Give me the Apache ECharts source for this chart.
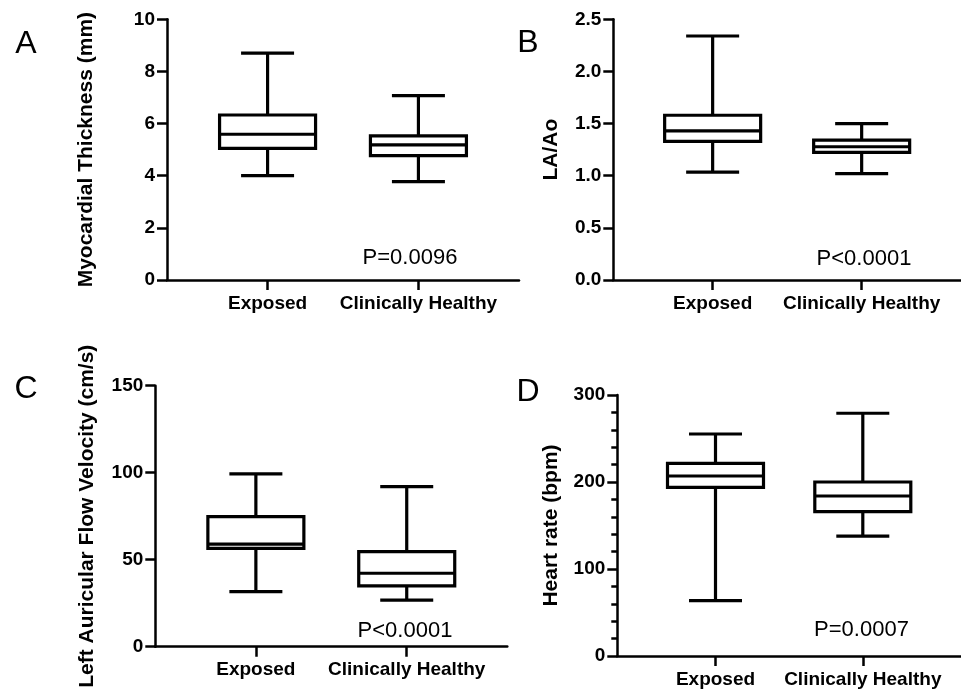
<!DOCTYPE html>
<html>
<head>
<meta charset="utf-8">
<script src="https://cdn.jsdelivr.net/npm/echarts@6/dist/echarts.min.js"></script>
<style>
html,body{margin:0;padding:0;background:#fff;}
#chart{width:961px;height:691px;}
</style>
</head>
<body>
<div id="chart"></div>
<script>
// ---- data ----
const categories = ['Exposed', 'Clinically Healthy'];
// [min, Q1, median, Q3, max]
const thicknessExposed = [4.0, 5.05, 5.59, 6.33, 8.7];
const thicknessHealthy = [3.77, 4.77, 5.18, 5.53, 7.07];
const laaoExposed = [1.035, 1.33, 1.43, 1.58, 2.34];
const laaoHealthy = [1.02, 1.224, 1.278, 1.342, 1.50];
const flowExposed = [31.6, 56.5, 59.0, 74.7, 99.3];
const flowHealthy = [26.8, 34.9, 42.2, 54.6, 92.0];
const hrExposed = [63.6, 193.9, 206.9, 221.5, 255.2];
const hrHealthy = [137.9, 165.9, 183.9, 200.0, 279.0];

const yTitles = ['Myocardial Thickness (mm)', 'LA/Ao', 'Left Auricular Flow Velocity (cm/s)', 'Heart rate (bpm)'];
const pTexts = ['P=0.0096', 'P<0.0001', 'P<0.0001', 'P=0.0007'];
const panelLetters = ['A', 'B', 'C', 'D'];
const yMin = [0, 0, 0, 0];
const yMax = [10, 2.5, 150, 300];
const yStep = [2, 0.5, 50, 100];

// ---- layout ----
const FONT = '"Liberation Sans", Arial, Helvetica, sans-serif';
const catPos = [2, 5];
const panels = [
  {left: 167, top: 19.3, height: 260.7, gap: 70, p: [410, 257.5], l: [26, 44], minor: false, dec: 0, series: [thicknessExposed, thicknessHealthy]},
  {left: 613.3, top: 19.3, height: 260.7, gap: 52, p: [864, 259], l: [528, 43], minor: false, dec: 1, series: [laaoExposed, laaoHealthy]},
  {left: 155.3, top: 385.7, height: 261, gap: 58, p: [405, 631], l: [26, 389.5], minor: false, dec: 0, series: [flowExposed, flowHealthy]},
  {left: 617.3, top: 395, height: 261, gap: 56, p: [861.5, 629.5], l: [528, 392], minor: true, dec: 0, series: [hrExposed, hrHealthy]}
];

function renderItem(params, api) {
  const x = api.value(0);
  const low = api.coord([x, api.value(1)]);
  const q1 = api.coord([x, api.value(2)]);
  const med = api.coord([x, api.value(3)]);
  const q3 = api.coord([x, api.value(4)]);
  const high = api.coord([x, api.value(5)]);
  const bw = 96, cw = 53, lw = 3.2;
  const cx = low[0];
  const st = {stroke: '#000', lineWidth: lw, fill: null};
  return {
    type: 'group',
    children: [
      {type: 'line', shape: {x1: cx, y1: high[1], x2: cx, y2: q3[1]}, style: st},
      {type: 'line', shape: {x1: cx, y1: q1[1], x2: cx, y2: low[1]}, style: st},
      {type: 'line', shape: {x1: cx - cw / 2, y1: high[1], x2: cx + cw / 2, y2: high[1]}, style: st},
      {type: 'line', shape: {x1: cx - cw / 2, y1: low[1], x2: cx + cw / 2, y2: low[1]}, style: st},
      {type: 'rect', shape: {x: cx - bw / 2, y: q3[1], width: bw, height: q1[1] - q3[1]}, style: {stroke: '#000', lineWidth: lw, fill: '#fff'}},
      {type: 'line', shape: {x1: cx - bw / 2, y1: med[1], x2: cx + bw / 2, y2: med[1]}, style: st}
    ]
  };
}

const grid = [], xAxis = [], yAxis = [], series = [], graphic = [];
panels.forEach((pn, i) => {
  grid.push({left: pn.left, top: pn.top, width: 352, height: pn.height, containLabel: false});
  xAxis.push({
    type: 'value', gridIndex: i, min: 0, max: 7, interval: 1,
    axisLine: {show: true, lineStyle: {color: '#000', width: 2.5}},
    axisTick: {show: true, customValues: catPos, length: 10, lineStyle: {color: '#000', width: 2.5}},
    axisLabel: {customValues: catPos, margin: 14, color: '#000', fontFamily: FONT, fontWeight: 'bold', fontSize: 19,
      formatter: v => categories[catPos.indexOf(v)] || ''},
    splitLine: {show: false}
  });
  yAxis.push({
    type: 'value', gridIndex: i, min: yMin[i], max: yMax[i], interval: yStep[i],
    name: yTitles[i], nameLocation: 'middle', nameGap: pn.gap,
    nameTextStyle: {color: '#000', fontFamily: FONT, fontWeight: 'bold', fontSize: 21},
    axisLine: {show: true, lineStyle: {color: '#000', width: 2.5}},
    axisTick: {show: true, length: 10, lineStyle: {color: '#000', width: 2.5}},
    minorTick: {show: pn.minor, splitNumber: 5, length: 6, lineStyle: {color: '#000', width: 2.5}},
    axisLabel: {margin: 12, color: '#000', fontFamily: FONT, fontWeight: 'bold', fontSize: 19,
      formatter: v => v.toFixed(pn.dec)},
    splitLine: {show: false}
  });
  series.push({
    type: 'custom', xAxisIndex: i, yAxisIndex: i, clip: false,
    renderItem: renderItem,
    encode: {x: 0, y: [1, 2, 3, 4, 5]},
    data: pn.series.map((arr, k) => [catPos[k]].concat(arr))
  });
  graphic.push({type: 'text', x: pn.p[0], y: pn.p[1],
    style: {text: pTexts[i], fill: '#000', font: '22px ' + FONT, textAlign: 'center', textVerticalAlign: 'middle'}});
  graphic.push({type: 'text', x: pn.l[0], y: pn.l[1],
    style: {text: panelLetters[i], fill: '#000', font: '32px ' + FONT, textAlign: 'center', textVerticalAlign: 'middle'}});
});

const chart = echarts.init(document.getElementById('chart'), null, {renderer: 'canvas'});
chart.setOption({
  backgroundColor: '#fff',
  animation: false,
  grid, xAxis, yAxis, series, graphic
});
</script>
</body>
</html>
